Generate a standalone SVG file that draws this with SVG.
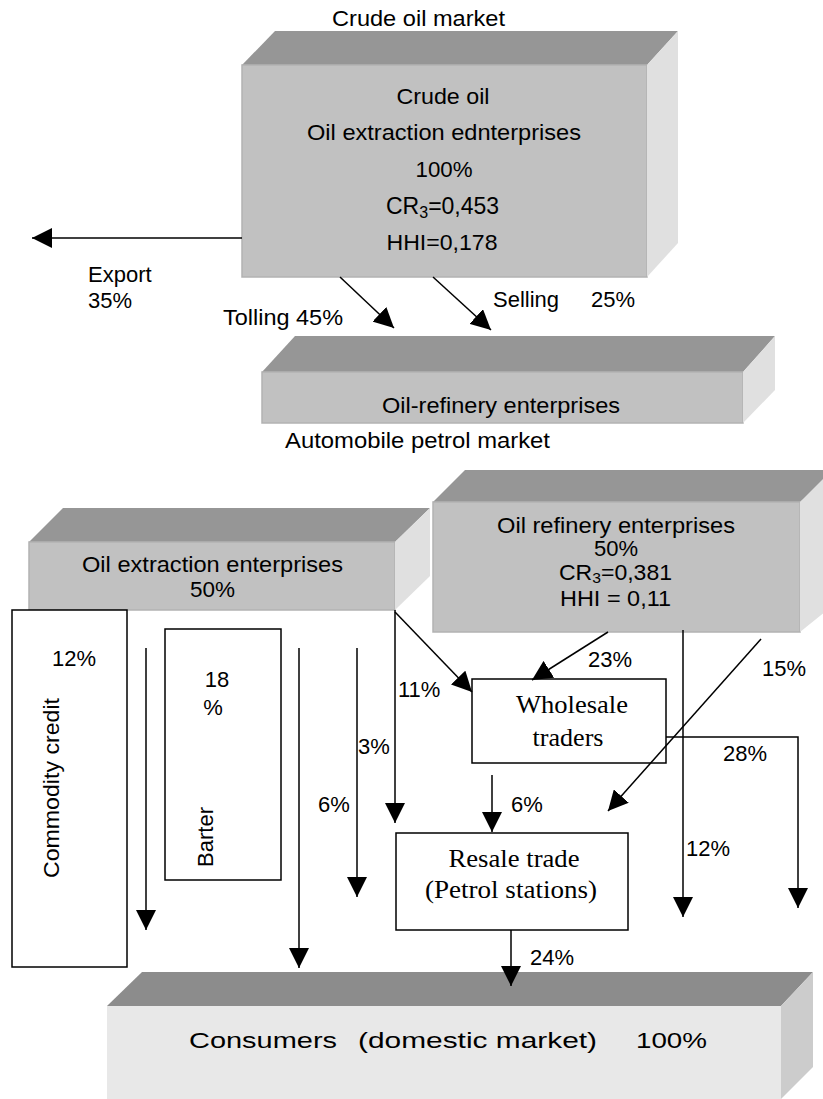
<svg xmlns="http://www.w3.org/2000/svg" width="823" height="1099" viewBox="0 0 823 1099">
<style>
text{font-family:"Liberation Sans",Arial,sans-serif;font-size:22px;fill:#000}
.serif{font-family:"Liberation Serif","Times New Roman",serif;font-size:26px}
.mid{text-anchor:middle}
.cr{font-size:23px}
.top{fill:#969696}
.front{fill:#c1c1c1;stroke:#b2b2b2;stroke-width:1.5}
.side{fill:#e0e0e0}
.ctop{fill:#8c8c8c}
.cfront{fill:#e8e8e8}
.cside{fill:#cccccc}
.box{fill:#fff;stroke:#000;stroke-width:1.5}
.con{fill:none;stroke:#000;stroke-width:1.5}
.arr{marker-end:url(#ah)}
</style>
<defs>
<marker id="ah" viewBox="0 0 20 20" refX="20" refY="10" markerWidth="20" markerHeight="20" markerUnits="userSpaceOnUse" orient="auto">
<path d="M0,0 L20,10 L0,20 z" fill="#000"/>
</marker>
</defs>
<rect width="823" height="1099" fill="#fff"/>

<text id="title-crude" x="332" y="26" textLength="173" lengthAdjust="spacingAndGlyphs">Crude oil market</text>

<g id="crude-oil">
<polygon class="top" points="242,65 275,31 678,31 647,65"/>
<rect class="front" x="242" y="65" width="405" height="212"/>
<polygon class="side" points="647,65 678,31 678,243 647,277"/>
<text class="mid" x="443" y="104" textLength="93" lengthAdjust="spacingAndGlyphs">Crude oil</text>
<text class="mid" x="444" y="140" textLength="274" lengthAdjust="spacingAndGlyphs">Oil extraction ednterprises</text>
<text class="mid" x="444" y="177" textLength="57" lengthAdjust="spacingAndGlyphs">100%</text>
<text class="cr" x="386" y="214">CR<tspan font-size="16" dy="4">3</tspan><tspan dy="-4">=0,453</tspan></text>
<text class="mid" x="442" y="250" textLength="111" lengthAdjust="spacingAndGlyphs">HHI=0,178</text>
</g>

<g id="oil-refinery-1">
<polygon class="top" points="262,372 295,336 775,336 743,372"/>
<rect class="front" x="262" y="372" width="481" height="51"/>
<polygon class="side" points="743,372 775,336 775,390 743,423"/>
<text x="382" y="413" textLength="238" lengthAdjust="spacingAndGlyphs">Oil-refinery enterprises</text>
</g>

<text id="title-petrol" x="285" y="448" textLength="265" lengthAdjust="spacingAndGlyphs">Automobile petrol market</text>

<g id="oil-extraction">
<polygon class="top" points="29,542 63,508 430,508 395,542"/>
<rect class="front" x="29" y="542" width="366" height="68"/>
<polygon class="side" points="395,542 430,508 430,576 395,610"/>
<text x="82" y="572" textLength="261" lengthAdjust="spacingAndGlyphs">Oil extraction enterprises</text>
<text x="190" y="597" textLength="45" lengthAdjust="spacingAndGlyphs">50%</text>
</g>

<g id="oil-refinery-2">
<polygon class="top" points="433,502 465,470 840,470 800,502"/>
<rect class="front" x="433" y="502" width="367" height="130"/>
<polygon class="side" points="800,502 840,462 840,600 800,632"/>
<text x="497" y="533" textLength="238" lengthAdjust="spacingAndGlyphs">Oil refinery enterprises</text>
<text class="mid" x="616" y="556" font-size="21">50%</text>
<text x="559" y="580" font-size="21" textLength="113" lengthAdjust="spacingAndGlyphs">CR<tspan font-size="15" dy="3">3</tspan><tspan dy="-3">=0,381</tspan></text>
<text x="560" y="606" font-size="21" textLength="111" lengthAdjust="spacingAndGlyphs">HHI = 0,11</text>
</g>

<g id="commodity-credit">
<rect class="box" x="12" y="610" width="115" height="357"/>
<text x="52" y="666">12%</text>
<text class="mid" transform="translate(59,788) rotate(-90)" textLength="180" lengthAdjust="spacingAndGlyphs">Commodity credit</text>
</g>

<g id="barter">
<rect class="box" x="165" y="629" width="116" height="251"/>
<text class="mid" x="217" y="687">18</text>
<text class="mid" x="213" y="715">%</text>
<text class="mid" transform="translate(213,837) rotate(-90)" textLength="60" lengthAdjust="spacingAndGlyphs">Barter</text>
</g>

<g id="wholesale">
<rect class="box" x="472" y="679" width="194" height="84"/>
<text class="serif mid" x="572" y="713" textLength="112" lengthAdjust="spacingAndGlyphs">Wholesale</text>
<text class="serif mid" x="568" y="746" textLength="71" lengthAdjust="spacingAndGlyphs">traders</text>
</g>

<g id="resale">
<rect class="box" x="396" y="833" width="232" height="97"/>
<text class="serif mid" x="514" y="867" textLength="131" lengthAdjust="spacingAndGlyphs">Resale trade</text>
<text class="serif mid" x="511" y="898" textLength="172" lengthAdjust="spacingAndGlyphs">(Petrol stations)</text>
</g>

<g id="consumers">
<polygon class="ctop" points="107,1006 142,972 813,972 781,1006"/>
<rect class="cfront" x="107" y="1006" width="674" height="93"/>
<polygon class="cside" points="781,1006 813,972 813,1067 781,1099"/>
<text y="1048" font-size="27"><tspan x="189" textLength="148" lengthAdjust="spacingAndGlyphs">Consumers</tspan><tspan x="358" textLength="239" lengthAdjust="spacingAndGlyphs">(domestic market)</tspan><tspan x="636" textLength="71" lengthAdjust="spacingAndGlyphs">100%</tspan></text>
</g>

<g id="connectors">
<line class="con arr" x1="242" y1="238" x2="32" y2="238"/>
<line class="con arr" x1="340" y1="277" x2="394" y2="328"/>
<line class="con arr" x1="433" y1="277" x2="491" y2="330"/>
<line class="con arr" x1="146" y1="648" x2="146" y2="930"/>
<line class="con arr" x1="299" y1="648" x2="299" y2="968"/>
<line class="con arr" x1="357" y1="648" x2="357" y2="897"/>
<line class="con arr" x1="395" y1="610" x2="395" y2="823"/>
<line class="con arr" x1="395" y1="612" x2="472" y2="692"/>
<line class="con arr" x1="608" y1="632" x2="532" y2="680"/>
<line class="con arr" x1="761" y1="639" x2="608" y2="811"/>
<line class="con arr" x1="683" y1="630" x2="683" y2="917"/>
<polyline class="con arr" points="666,737 798,737 798,908"/>
<line class="con arr" x1="492" y1="775" x2="492" y2="832"/>
<line class="con arr" x1="511" y1="930" x2="511" y2="986"/>
</g>

<g id="labels">
<text x="88" y="282">Export</text>
<text x="88" y="308">35%</text>
<text x="223" y="325" textLength="120" lengthAdjust="spacingAndGlyphs">Tolling 45%</text>
<text x="493" y="307" textLength="66" lengthAdjust="spacingAndGlyphs">Selling</text>
<text x="591" y="307">25%</text>
<text x="358" y="754">3%</text>
<text x="318" y="812">6%</text>
<text x="398" y="697">11%</text>
<text x="588" y="667">23%</text>
<text x="762" y="676">15%</text>
<text x="723" y="761">28%</text>
<text x="511" y="812">6%</text>
<text x="686" y="856">12%</text>
<text x="530" y="965">24%</text>
</g>
</svg>
